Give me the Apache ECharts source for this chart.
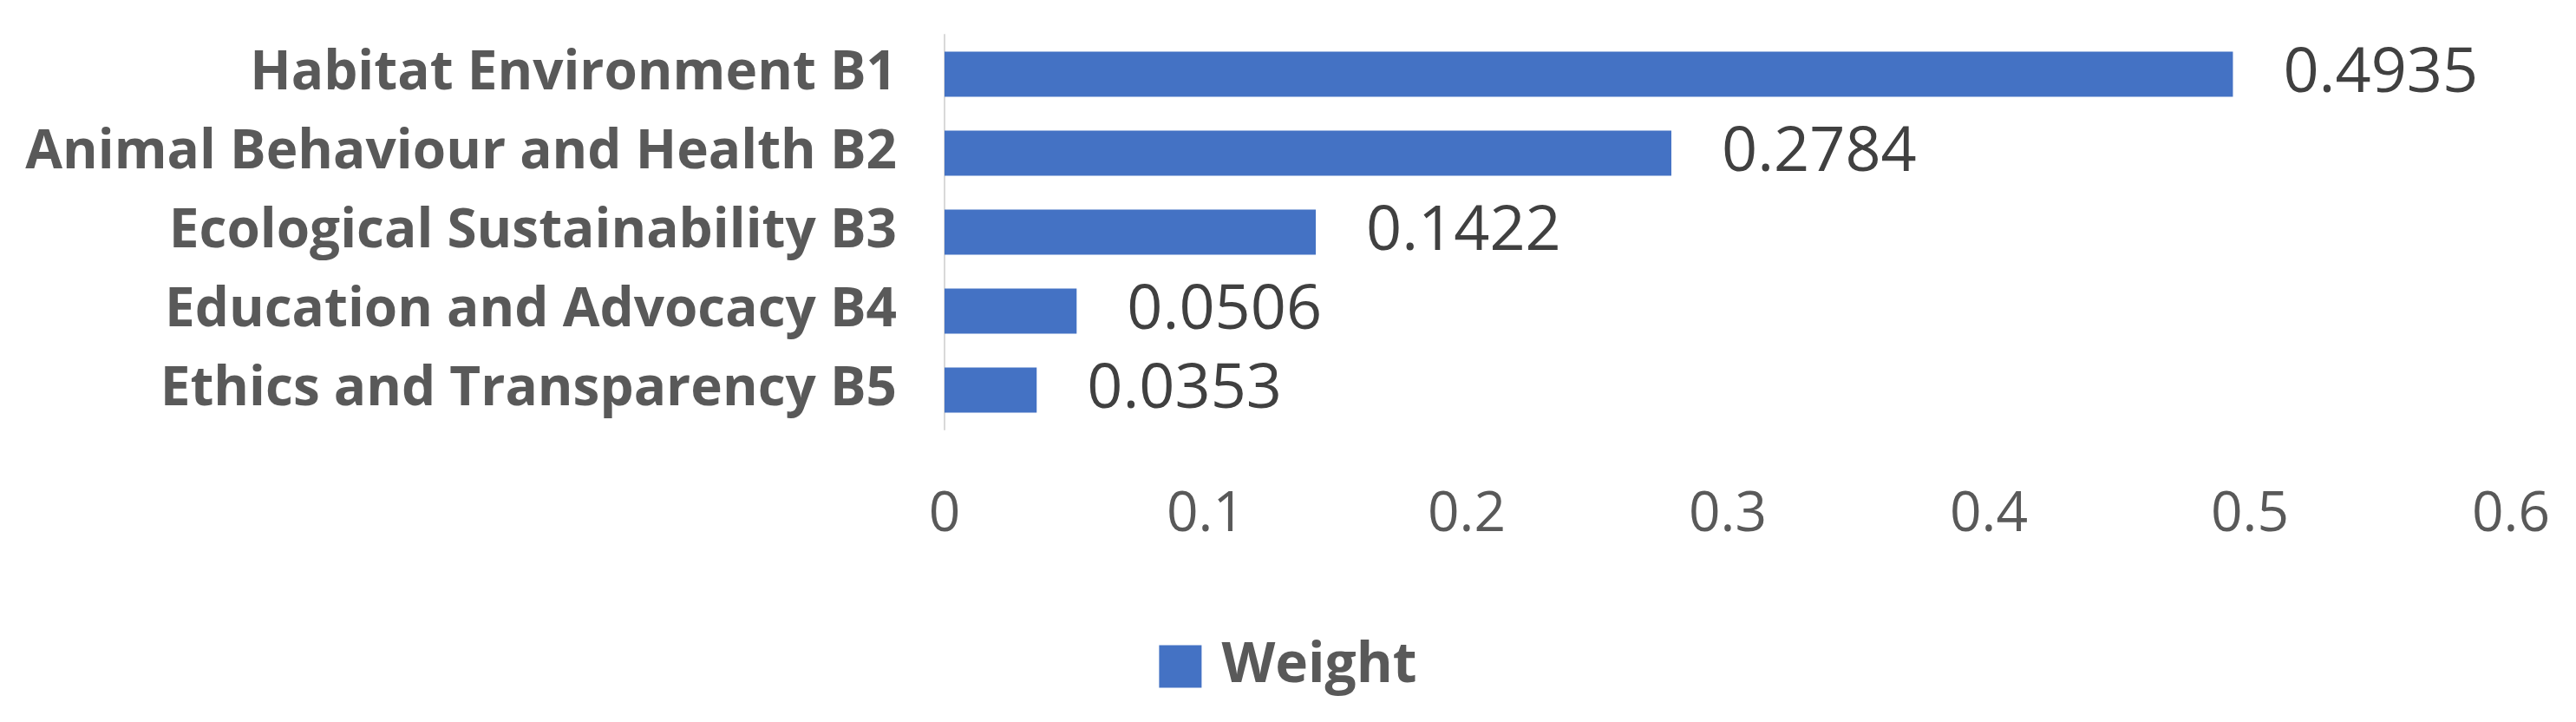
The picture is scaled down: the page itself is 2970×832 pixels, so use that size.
<!DOCTYPE html>
<html>
<head>
<meta charset="utf-8">
<script src="https://cdn.jsdelivr.net/npm/echarts@6/dist/echarts.min.js"></script>
<style>
html,body{margin:0;padding:0;background:#fff;}
#chart{width:2970px;height:832px;}
</style>
</head>
<body>
<div id="chart"></div>
<script>
const categories = [
  "Habitat Environment B1",
  "Animal Behaviour and Health B2",
  "Ecological Sustainability B3",
  "Education and Advocacy B4",
  "Ethics and Transparency B5"
];
const weights = [0.4935, 0.2784, 0.1422, 0.0506, 0.0353];
const seriesName = "Weight";
const xTicks = { min: 0, max: 0.6, interval: 0.1 };

const chart = echarts.init(document.getElementById('chart'));
chart.setOption({
  backgroundColor: '#ffffff',
  animation: false,
  grid: { left: 1089, right: 75, top: 40, bottom: 337, containLabel: false },
  legend: {
    data: [seriesName],
    left: 'center',
    top: 731,
    itemWidth: 49,
    itemHeight: 49,
    icon: 'rect',
    textStyle: {
      fontFamily: 'Open Sans',
      fontWeight: 'bold',
      fontSize: 64,
      color: '#595959',
      padding: [0, 0, 0, 18]
    }
  },
  xAxis: {
    type: 'value',
    min: xTicks.min,
    max: xTicks.max,
    interval: xTicks.interval,
    axisLine: { show: false },
    axisTick: { show: false },
    splitLine: { show: false },
    axisLabel: {
      fontFamily: 'Open Sans',
      fontSize: 64,
      color: '#595959',
      margin: 67,
      formatter: v => String(+v.toFixed(1))
    }
  },
  yAxis: {
    type: 'category',
    data: categories,
    inverse: true,
    axisLine: { show: true, lineStyle: { color: '#d9d9d9', width: 2 } },
    axisTick: { show: false },
    axisLabel: {
      fontFamily: 'Open Sans',
      fontWeight: 'bold',
      fontSize: 62,
      color: '#595959',
      margin: 55
    }
  },
  series: [{
    name: seriesName,
    type: 'bar',
    data: weights,
    barCategoryGap: '43%',
    itemStyle: { color: '#4472C4' },
    label: {
      show: true,
      position: 'right',
      distance: 58,
      fontFamily: 'Open Sans',
      fontSize: 72,
      color: '#404040',
      padding: [6, 0, 0, 0],
      formatter: p => p.value.toFixed(4)
    }
  }]
});
</script>
</body>
</html>
